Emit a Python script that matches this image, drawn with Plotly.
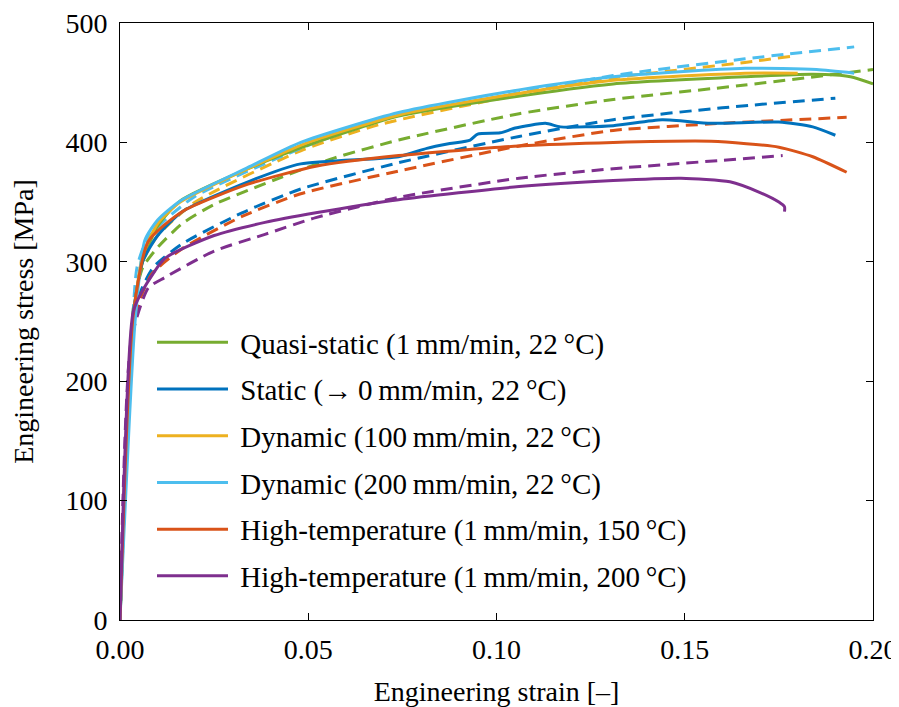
import plotly.graph_objects as go

# legend labels and colours (MATLAB default order)
labels = [
    "Quasi-static (1\u2009mm/min, 22\u2009°C)",
    "Static (\u2192\u20090\u2009mm/min, 22\u2009°C)",
    "Dynamic (100\u2009mm/min, 22\u2009°C)",
    "Dynamic (200\u2009mm/min, 22\u2009°C)",
    "High-temperature (1\u2009mm/min, 150\u2009°C)",
    "High-temperature (1\u2009mm/min, 200\u2009°C)",
]
colors = ["#77AC30", "#0072BD", "#EDB120", "#4DBEEE", "#D95319", "#7E2F8E"]

# experiment (solid)
qs_eps = [0, 0.0035, 0.006, 0.010, 0.016, 0.034, 0.052, 0.074, 0.1, 0.131, 0.166, 0.184, 0.194, 0.2]
qs_sig = [0, 255, 300, 330, 351, 378, 400, 422, 436, 449, 455, 457, 455, 449]
st_eps = [0, 0.0035, 0.006, 0.010, 0.0165, 0.034, 0.048, 0.074, 0.0815, 0.0876, 0.093, 0.095, 0.101,
          0.105, 0.113, 0.117, 0.131, 0.144, 0.157, 0.175, 0.184, 0.19]
st_sig = [0, 255, 300, 322, 342, 367, 382, 388, 395, 399, 402, 407, 408,
          412, 416, 413, 414, 419, 416, 417, 413, 406]
d100_eps = [0, 0.0035, 0.006, 0.010, 0.016, 0.034, 0.05, 0.074, 0.1, 0.131, 0.166, 0.18]
d100_sig = [0, 250, 305, 332, 350, 378, 400, 423, 438, 452, 458, 458]
d200_eps = [0, 0.004, 0.0066, 0.010, 0.016, 0.034, 0.048, 0.074, 0.106, 0.131, 0.166, 0.185, 0.195]
d200_sig = [0, 250, 318, 335, 351, 379, 400, 425, 444, 455, 462, 461, 458]
t150_eps = [0, 0.0035, 0.0075, 0.0165, 0.034, 0.052, 0.074, 0.106, 0.131, 0.157, 0.175, 0.184, 0.193]
t150_sig = [0, 255, 317, 342, 365, 380, 389, 397, 400, 401, 396, 388, 375]
t200_eps = [0, 0.0035, 0.006, 0.012, 0.025, 0.0385, 0.052, 0.074, 0.106, 0.131, 0.149, 0.162, 0.170, 0.175, 0.1765, 0.1765]
t200_sig = [0, 258, 276, 303, 322, 333, 341, 352, 363, 368, 370, 367, 358, 350, 346, 342]

# simulation (dashed)
qs_sim_eps = [0, 0.0035, 0.006, 0.010, 0.0165, 0.025, 0.043, 0.057, 0.074, 0.106, 0.131, 0.166, 0.2]
qs_sim_sig = [0, 260, 295, 312, 332, 348, 371, 387, 402, 424, 436, 448, 461]
st_sim_eps = [0, 0.003, 0.0055, 0.009, 0.0165, 0.0324, 0.048, 0.074, 0.106, 0.131, 0.16, 0.19]
st_sim_sig = [0, 230, 275, 296, 315, 341, 361, 383, 405, 419, 429, 437]
d100_sim_eps = [0, 0.0035, 0.006, 0.01, 0.02, 0.048, 0.069, 0.106, 0.131, 0.166, 0.178]
d100_sim_sig = [0, 255, 300, 322, 350, 393, 415, 440, 454, 467, 472]
d200_sim_eps = [0, 0.003, 0.0045, 0.007, 0.012, 0.02, 0.048, 0.069, 0.1, 0.131, 0.166, 0.195]
d200_sim_sig = [0, 230, 295, 318, 335, 355, 395, 419, 438, 456, 470, 480]
t150_sim_eps = [0, 0.003, 0.0055, 0.0085, 0.0165, 0.0324, 0.048, 0.074, 0.106, 0.131, 0.16, 0.193]
t150_sim_sig = [0, 230, 270, 290, 311, 338, 357, 376, 397, 410, 416, 421]
t200_sim_eps = [0, 0.003, 0.0075, 0.012, 0.025, 0.0385, 0.052, 0.074, 0.106, 0.131, 0.16, 0.176]
t200_sim_sig = [0, 235, 278, 287, 309, 323, 337, 354, 370, 378, 385, 389]

exp_data = [(qs_eps, qs_sig), (st_eps, st_sig), (d100_eps, d100_sig),
            (d200_eps, d200_sig), (t150_eps, t150_sig), (t200_eps, t200_sig)]
sim_data = [(qs_sim_eps, qs_sim_sig), (st_sim_eps, st_sim_sig), (d100_sim_eps, d100_sim_sig),
            (d200_sim_eps, d200_sim_sig), (t150_sim_eps, t150_sim_sig), (t200_sim_eps, t200_sim_sig)]

fig = go.Figure()

# dashed simulation curves first, solid on top
for i, (x, y) in enumerate(sim_data):
    fig.add_trace(go.Scatter(x=x, y=y, mode="lines", showlegend=False,
                             line=dict(color=colors[i], width=3, dash="12px,7px", shape="spline",
                                       smoothing=0.6)))
for i, (x, y) in enumerate(exp_data):
    # small leading space: gap between legend line and text
    fig.add_trace(go.Scatter(x=x, y=y, mode="lines", name="\u2005" + labels[i], legendgroup=str(i),
                             line=dict(color=colors[i], width=3, shape="spline", smoothing=0.6)))

font = "Liberation Serif, Times New Roman, serif"
# page body has an 8px default margin, so the figure is 8px smaller than the window
fig.update_layout(
    width=891, height=699,
    margin=dict(l=112, r=26, t=15, b=87),
    paper_bgcolor="white", plot_bgcolor="white",
    font=dict(family=font, size=28, color="black"),
    legend=dict(x=0.0425, y=0.5075, xanchor="left", yanchor="top",
                bgcolor="rgba(0,0,0,0)", itemwidth=71, tracegroupgap=6,
                font=dict(family=font, size=29)),
    xaxis=dict(range=[0, 0.2], tickvals=[0, 0.05, 0.1, 0.15, 0.2],
               ticktext=["0.00", "0.05", "0.10", "0.15", "0.20"],
               ticks="inside", ticklen=7, tickcolor="black", showline=True, linecolor="black",
               linewidth=1, mirror="ticks", showgrid=False, zeroline=False, automargin=False,
               tickfont=dict(size=28), ticklabelstandoff=4, ticklabeloverflow="allow",
               title=dict(text="Engineering strain [–]", font=dict(size=28), standoff=18)),
    yaxis=dict(range=[0, 500], tickvals=[0, 100, 200, 300, 400, 500],
               ticks="inside", ticklen=7, tickcolor="black", showline=True, linecolor="black",
               linewidth=1, mirror="ticks", showgrid=False, zeroline=False, automargin=False,
               tickfont=dict(size=28), ticklabelstandoff=6, ticklabeloverflow="allow",
               title=dict(text="Engineering stress [MPa]", font=dict(size=28), standoff=24)),
)

fig.write_html("out.html")
